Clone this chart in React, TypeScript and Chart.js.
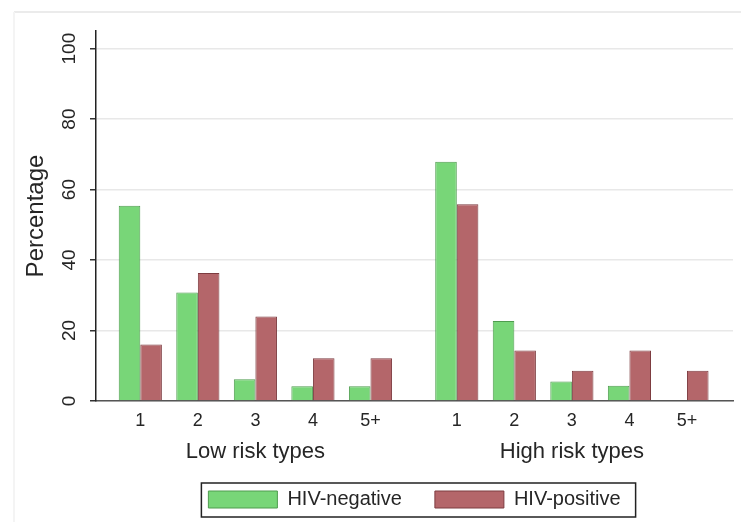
import React, { useEffect, useRef } from "react";
import { Chart, registerables } from "chart.js";

Chart.register(...registerables);

// ---- data ----
const riskCategories = ["1", "2", "3", "4", "5+"];
const groupTitles = ["Low risk types", "High risk types"];
const hivNegativeLow = [55.4, 30.8, 6.2, 4.2, 4.2];
const hivPositiveLow = [16.0, 36.3, 24.0, 12.1, 12.1];
const hivNegativeHigh = [67.9, 22.7, 5.5, 4.3, null];
const hivPositiveHigh = [55.8, 14.3, 8.6, 14.3, 8.6];
const seriesNames = ["HIV-negative", "HIV-positive"];
const yTicks = [0, 20, 40, 60, 80, 100];

const GROUP_GAP = 0.5; // extra slot between the two groups
const pos = (g: number, i: number) => g * (riskCategories.length + GROUP_GAP) + i + 1;
const groupCenter = (g: number) => pos(g, 0) + (riskCategories.length - 1) / 2;

const FONT = "'Liberation Sans', Arial, sans-serif";
const TEXT = "#262626";

const decorPlugin = {
  id: "decor",
  beforeDraw(chart: any) {
    const ctx = chart.ctx;
    ctx.save();
    ctx.strokeStyle = "#ebebeb";
    ctx.lineWidth = 2;
    ctx.beginPath();
    ctx.moveTo(14, 12);
    ctx.lineTo(chart.width, 12);
    ctx.stroke();
    ctx.strokeStyle = "#f4f4f4";
    ctx.beginPath();
    ctx.moveTo(14, 12);
    ctx.lineTo(14, chart.height);
    ctx.stroke();
    ctx.restore();
  },
  afterDraw(chart: any) {
    const ctx = chart.ctx;
    // group titles under the category ticks
    const xs = chart.scales.x;
    ctx.save();
    ctx.fillStyle = TEXT;
    ctx.font = `22px ${FONT}`;
    ctx.textAlign = "center";
    ctx.textBaseline = "alphabetic";
    groupTitles.forEach((t, g) => {
      ctx.fillText(t, xs.getPixelForValue(groupCenter(g)), xs.top + 57);
    });
    ctx.restore();
    // legend frame
    const lg = chart.legend;
    if (!lg || !lg.legendHitBoxes || !lg.legendHitBoxes.length) return;
    const hb = lg.legendHitBoxes;
    const first = hb[0];
    const last = hb[hb.length - 1];
    const left = first.left - 7;
    const right = last.left + last.width + 15;
    const top = first.top - 6.5;
    const bottom = first.top + first.height + 7.5;
    ctx.save();
    ctx.strokeStyle = "#222";
    ctx.lineWidth = 1.5;
    ctx.strokeRect(left, top, right - left, bottom - top);
    ctx.restore();
  },
};

export default function App() {
  const ref = useRef<HTMLCanvasElement | null>(null);
  useEffect(() => {
    document.body.style.margin = "0";
    const toPts = (vals: (number | null)[], g: number) =>
      vals.map((v, i) => ({ x: pos(g, i), y: v }));
    const chart = new Chart(ref.current as HTMLCanvasElement, {
      type: "bar",
      data: {
        datasets: [
          {
            label: seriesNames[0],
            data: [...toPts(hivNegativeLow, 0), ...toPts(hivNegativeHigh, 1)] as any,
            backgroundColor: "#78d678",
            borderColor: "#4f9c4f",
            borderWidth: 1,
          },
          {
            label: seriesNames[1],
            data: [...toPts(hivPositiveLow, 0), ...toPts(hivPositiveHigh, 1)] as any,
            backgroundColor: "#b4666a",
            borderColor: "#7d3c40",
            borderWidth: 1,
          },
        ],
      },
      plugins: [decorPlugin],
      options: {
        animation: false,
        responsive: false,
        categoryPercentage: 0.75,
        barPercentage: 1,
        layout: { padding: { top: 31, right: 8, left: 0, bottom: 2.5 } },
        plugins: {
          tooltip: { enabled: false },
          legend: {
            position: "bottom",
            fullSize: false,
            labels: {
              boxWidth: 69,
              boxHeight: 17,
              padding: 33,
              color: TEXT,
              font: { family: FONT, size: 20 },
            },
          },
        },
        scales: {
          x: {
            type: "linear",
            offset: false,
            min: 0.23,
            max: 11.3,
            grid: { display: false, drawTicks: false },
            border: { display: true, color: "#555", width: 1.5 },
            afterBuildTicks: (scale: any) => {
              const t: any[] = [];
              groupTitles.forEach((_, g) =>
                riskCategories.forEach((_c, i) => t.push({ value: pos(g, i) }))
              );
              scale.ticks = t;
            },
            afterFit: (scale: any) => {
              scale.height = 55.5;
            },
            ticks: {
              autoSkip: false,
              maxRotation: 0,
              padding: 9,
              color: TEXT,
              font: { family: FONT, size: 18 },
              callback: (_v: any, i: number) => riskCategories[i % riskCategories.length],
            },
          },
          y: {
            min: 0,
            max: 105,
            afterBuildTicks: (scale: any) => {
              scale.ticks = yTicks.map((v) => ({ value: v }));
            },
            afterFit: (scale: any) => {
              scale.width = 96;
            },
            grid: {
              color: "#e8e8e8",
              lineWidth: 1.5,
              tickColor: "#333",
              tickLength: 6,
            },
            border: { display: true, color: "#222", width: 1.5 },
            title: {
              display: true,
              text: "Percentage",
              color: TEXT,
              font: { family: FONT, size: 24 },
              padding: { top: 21.6, bottom: 0 },
            },
            ticks: {
              minRotation: 90,
              maxRotation: 90,
              crossAlign: "center",
              padding: 4.6,
              color: TEXT,
              font: { family: FONT, size: 19 },
            },
          },
        },
      },
    } as any);
    return () => chart.destroy();
  }, []);
  return (
    <div style={{ position: "absolute", left: 0, top: 0, width: 741, height: 522, background: "#fff" }}>
      <canvas ref={ref} width={741} height={522} />
    </div>
  );
}
